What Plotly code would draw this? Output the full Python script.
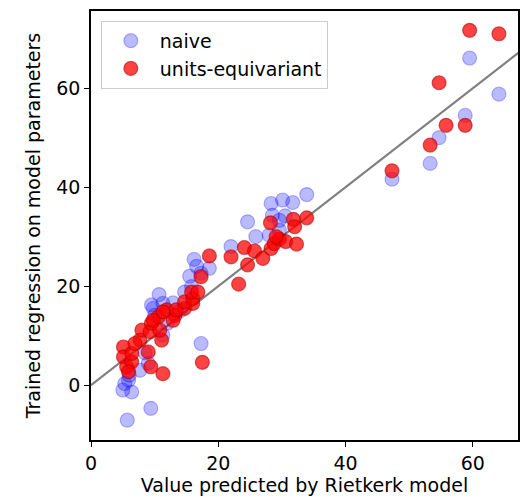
import plotly.graph_objects as go

# Rietkerk-model predictions (x) vs. trained regression output (y)
naive_x = [5.7, 9.4, 6.4, 5.0, 5.3, 5.9, 7.7, 9.0, 11.3, 9.8, 11.3, 10.0, 17.3,
           10.7, 9.5, 12.9, 14.7, 15.8, 15.5, 17.3, 16.2, 16.6, 18.6, 22.0,
           6.0, 8.5, 12.0, 14.0,
           25.9, 28.0, 29.6, 24.6, 29.6, 28.5, 30.5, 28.3, 30.1, 31.7, 33.9,
           47.3, 53.3, 54.7, 58.8, 64.1, 59.5]
naive_y = [-7.1, -4.7, -1.4, -1.0, 0.3, 1.0, 3.0, 4.4, 10.1, 15.5, 16.5, 14.1, 8.4,
           18.3, 16.2, 16.6, 18.8, 19.9, 22.0, 22.6, 25.4, 24.0, 23.6, 28.0,
           2.0, 6.5, 12.5, 15.0,
           30.0, 30.3, 31.3, 33.0, 33.3, 34.3, 34.2, 36.7, 37.4, 36.9, 38.5,
           41.6, 44.8, 50.0, 54.5, 58.8, 66.1]

equiv_x = [11.3, 9.4, 5.1, 5.1, 5.6, 6.4, 5.9, 7.7, 9.0, 8.0, 9.3, 9.5, 10.6,
           11.1, 13.2, 11.9, 14.7, 16.0, 17.5, 6.4, 6.9, 9.8, 12.9, 10.8, 13.4,
           11.3, 14.7, 16.0, 15.8, 16.8, 17.3, 18.6, 22.0, 24.1, 23.2, 24.6,
           25.7, 27.0, 28.3, 28.8, 29.6, 30.6, 29.1, 32.3, 28.2, 31.8, 33.9, 32.0,
           47.3, 53.3, 55.8, 58.8, 54.7, 59.5, 64.1]
equiv_y = [2.3, 3.7, 7.7, 5.7, 3.7, 4.7, 2.7, 9.1, 6.7, 11.1, 10.8, 12.5, 13.8,
           9.1, 14.1, 15.2, 15.5, 16.5, 4.6, 6.4, 8.4, 13.1, 13.1, 11.1, 15.2,
           14.8, 16.8, 17.5, 18.8, 18.8, 21.9, 26.1, 25.9, 27.8, 20.4, 24.3,
           27.1, 25.6, 27.6, 28.6, 29.5, 29.0, 30.0, 28.5, 32.8, 33.5, 33.8, 32.0,
           43.3, 48.5, 52.5, 52.5, 61.1, 71.7, 71.0]

# identity reference line y = x
diag = [0, 70]

font = "DejaVu Sans, sans-serif"
fsize = 19

fig = go.Figure()
fig.add_trace(go.Scatter(
    x=diag, y=diag, mode="lines", showlegend=False, hoverinfo="skip",
    line=dict(color="rgb(128,128,128)", width=2.2)))
fig.add_trace(go.Scatter(
    x=naive_x, y=naive_y, mode="markers", name="naive",
    marker=dict(size=14, color="rgba(0,0,255,0.27)",
                line=dict(color="rgba(0,0,255,0.27)", width=1.2))))
fig.add_trace(go.Scatter(
    x=equiv_x, y=equiv_y, mode="markers", name="units-equivariant",
    marker=dict(size=14, color="rgba(255,0,0,0.74)",
                line=dict(color="rgba(170,0,0,0.55)", width=1.2))))

axis_common = dict(
    showgrid=False, zeroline=False, showline=True, linecolor="black",
    linewidth=1.5, mirror=True, ticks="outside", ticklen=5, tickwidth=1.3,
    tickcolor="black", tickfont=dict(family=font, size=fsize, color="black"),
)

fig.update_layout(
    width=521, height=500,
    margin=dict(l=91, r=1, t=11, b=60),
    paper_bgcolor="white", plot_bgcolor="white",
    font=dict(family=font, size=fsize, color="black"),
    xaxis=dict(range=[0, 67.1], tickvals=[0, 20, 40, 60],
               title=dict(text="Value predicted by Rietkerk model",
                          font=dict(family=font, size=fsize), standoff=3),
               **axis_common),
    yaxis=dict(range=[-11.1, 75.6], tickvals=[0, 20, 40, 60],
               title=dict(text="Trained regression on model parameters",
                          font=dict(family=font, size=fsize), standoff=11),
               **axis_common),
    legend=dict(x=0.023, y=0.977, xanchor="left", yanchor="top",
                bgcolor="rgba(255,255,255,0.8)", bordercolor="rgb(204,204,204)",
                borderwidth=1, font=dict(family=font, size=fsize),
                itemwidth=48, tracegroupgap=0),
)

fig.write_html("out.html")
